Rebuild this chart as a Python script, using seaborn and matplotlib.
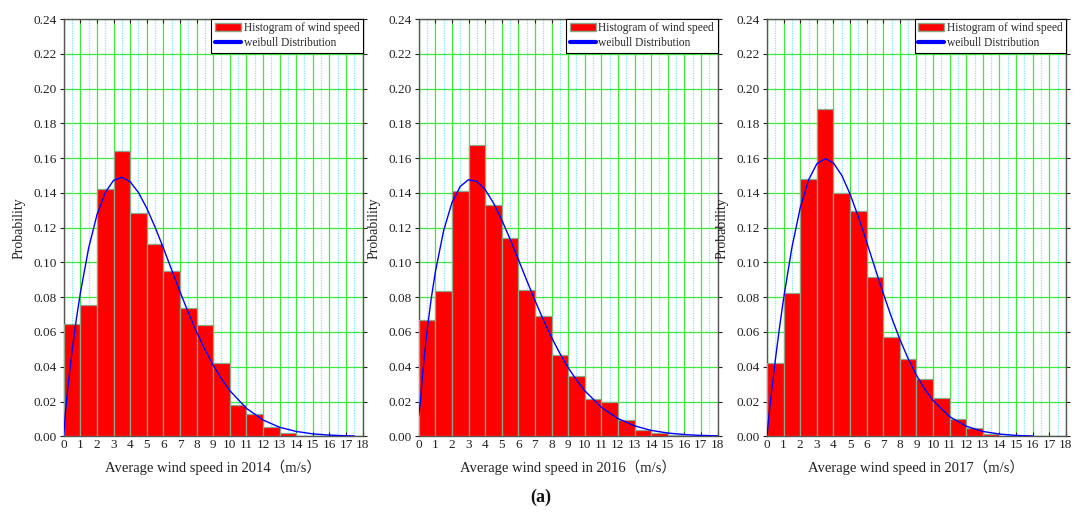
import numpy as np
import pandas as pd
import matplotlib
matplotlib.use("Agg")
import matplotlib.pyplot as plt
import seaborn as sns
from matplotlib.patches import Patch
from matplotlib.lines import Line2D
from matplotlib.ticker import MultipleLocator, FormatStrFormatter

# ---------------- data ----------------
years = ["2014", "2016", "2017"]
bin_edges = list(range(0, 19))
bin_centers = [i + 0.5 for i in range(18)]

hist_2014 = [0.0644, 0.0757, 0.1424, 0.1641, 0.1282, 0.1107, 0.0950, 0.0736, 0.0638,
             0.0424, 0.0181, 0.0129, 0.0054, 0.0017, 0.0, 0.0, 0.0, 0.0]
hist_2016 = [0.0671, 0.0834, 0.1409, 0.1674, 0.1333, 0.1143, 0.0844, 0.0690, 0.0466,
             0.0347, 0.0214, 0.0195, 0.0092, 0.0039, 0.0019, 0.0008, 0.0004, 0.0]
hist_2017 = [0.0424, 0.0823, 0.1481, 0.1883, 0.1402, 0.1297, 0.0917, 0.0574, 0.0445,
             0.0328, 0.0222, 0.0100, 0.0050, 0.0012, 0.0003, 0.0, 0.0, 0.0]

curve_x_2014 = [0, 0.1, 0.25, 0.5, 0.75, 1, 1.5, 2, 2.5, 3, 3.5, 4, 4.5, 5, 5.5, 6, 6.5, 7,
                7.5, 8, 8.5, 9, 9.5, 10, 11, 12, 13, 14, 15, 16, 17, 17.5]
curve_y_2014 = [0.0, 0.0137, 0.0284, 0.0490, 0.0668, 0.0824, 0.1083, 0.1274, 0.1402, 0.1472,
                0.1490, 0.1464, 0.1402, 0.1312, 0.1203, 0.1083, 0.0957, 0.0832, 0.0712, 0.0600,
                0.0499, 0.0409, 0.0330, 0.0263, 0.0161, 0.0094, 0.0052, 0.0028, 0.0014,
                0.0007, 0.0003, 0.0002]

curve_x_2016 = [0, 0.1, 0.25, 0.5, 0.75, 1, 1.5, 2, 2.5, 3, 3.5, 4, 4.5, 5, 5.5, 6, 6.5, 7,
                7.5, 8, 8.5, 9, 9.5, 10, 11, 12, 13, 14, 15, 16, 17, 18]
curve_y_2016 = [0.0120, 0.0200, 0.0377, 0.0605, 0.0790, 0.0944, 0.1183, 0.1343, 0.1437, 0.1476,
                0.1466, 0.1419, 0.1342, 0.1245, 0.1135, 0.1017, 0.0898, 0.0782, 0.0671, 0.0569,
                0.0477, 0.0395, 0.0324, 0.0262, 0.0167, 0.0102, 0.0060, 0.0034, 0.0019,
                0.0010, 0.0005, 0.0003]

curve_x_2017 = [0, 0.1, 0.25, 0.5, 0.75, 1, 1.5, 2, 2.5, 3, 3.5, 4, 4.5, 5, 5.5, 6, 6.5, 7,
                7.5, 8, 8.5, 9, 9.5, 10, 11, 12, 13, 14, 15, 16]
curve_y_2017 = [0.0, 0.0104, 0.0237, 0.0439, 0.0624, 0.0793, 0.1086, 0.1314, 0.1474, 0.1567,
                0.1597, 0.1572, 0.1501, 0.1394, 0.1263, 0.1118, 0.0969, 0.0822, 0.0684, 0.0558,
                0.0447, 0.0351, 0.0271, 0.0206, 0.0113, 0.0058, 0.0028, 0.0013, 0.0005, 0.0002]

hists = [hist_2014, hist_2016, hist_2017]
curves = [(curve_x_2014, curve_y_2014), (curve_x_2016, curve_y_2016), (curve_x_2017, curve_y_2017)]

hist_label = "Histogram of wind speed"
curve_label = "weibull Distribution"
y_label = "Probability"
x_label_fmt = "Average wind speed in {}（m/s）"
panel_tag = "(a)"

# ---------------- style ----------------
sns.set_theme(style="white")
plt.rcParams["font.family"] = ["Liberation Serif", "Noto Sans CJK SC"]
plt.rcParams["axes.unicode_minus"] = False

fig = plt.figure(figsize=(10.75, 5.15), dpi=100)
lefts = [0.0593, 0.3895, 0.7135]
bottom, width, height = 0.1528, 0.2780, 0.8103

for i, (yr, h, (cx, cy)) in enumerate(zip(years, hists, curves)):
    ax = fig.add_axes([lefts[i], bottom, width, height])
    df_h = pd.DataFrame({"speed": bin_centers, "prob": h})
    sns.histplot(data=df_h, x="speed", weights="prob", bins=bin_edges, stat="count",
                 color="#ff0000", edgecolor="#8aa88a", linewidth=0.9, alpha=1.0,
                 ax=ax, zorder=3)
    df_c = pd.DataFrame({"x": cx, "y": cy})
    sns.lineplot(data=df_c, x="x", y="y", color="#0000ff", linewidth=1.0,
                 estimator=None, sort=False, ax=ax, zorder=4)

    ax.set_xlim(0, 18)
    ax.set_ylim(0, 0.24)
    ax.xaxis.set_major_locator(MultipleLocator(1))
    ax.xaxis.set_minor_locator(MultipleLocator(0.5))
    ax.yaxis.set_major_locator(MultipleLocator(0.02))
    ax.yaxis.set_major_formatter(FormatStrFormatter("%.2f"))

    ax.grid(False)
    ax.grid(which="major", axis="both", color="#3ce83c", linewidth=0.9, zorder=0)
    ax.grid(which="minor", axis="x", color="#7fe6ff", linewidth=0.9,
            linestyle=(0, (1, 1)), zorder=0)
    ax.set_axisbelow(True)

    for s in ax.spines.values():
        s.set_visible(True)
        s.set_color("#555555")
        s.set_linewidth(1.0)

    ax.tick_params(axis="both", which="major", labelsize=9.5, colors="#222222",
                   length=3, width=0.8, direction="in", top=True, right=True,
                   bottom=True, left=True, pad=2)
    ax.tick_params(axis="y", which="major", direction="out", left=True, right=False)
    ax.tick_params(axis="both", which="minor", length=0)
    ax.tick_params(axis="y", which="major", right=True)

    ax.set_xlabel(x_label_fmt.format(yr), fontsize=10.5, labelpad=6, color="#222222")
    ax.set_ylabel(y_label, fontsize=10, labelpad=6, color="#222222")

    handles = [Patch(facecolor="#ff0000", edgecolor="#8aa88a", label=hist_label),
               Line2D([0], [0], color="#0000ff", linewidth=3, label=curve_label)]
    leg = ax.legend(handles=handles, loc="upper right", fontsize=8.3, frameon=True,
                    fancybox=False, framealpha=1, edgecolor="#000000",
                    borderpad=0.3, handlelength=2.3, handletextpad=0.2,
                    labelspacing=0.25, borderaxespad=0.0)
    leg.get_frame().set_linewidth(0.8)
    leg.set_zorder(10)

fig.text(0.503, 0.018, panel_tag, ha="center", va="bottom", fontsize=13,
         fontweight="bold", color="#111111")

fig.savefig("out.png", dpi=100)
